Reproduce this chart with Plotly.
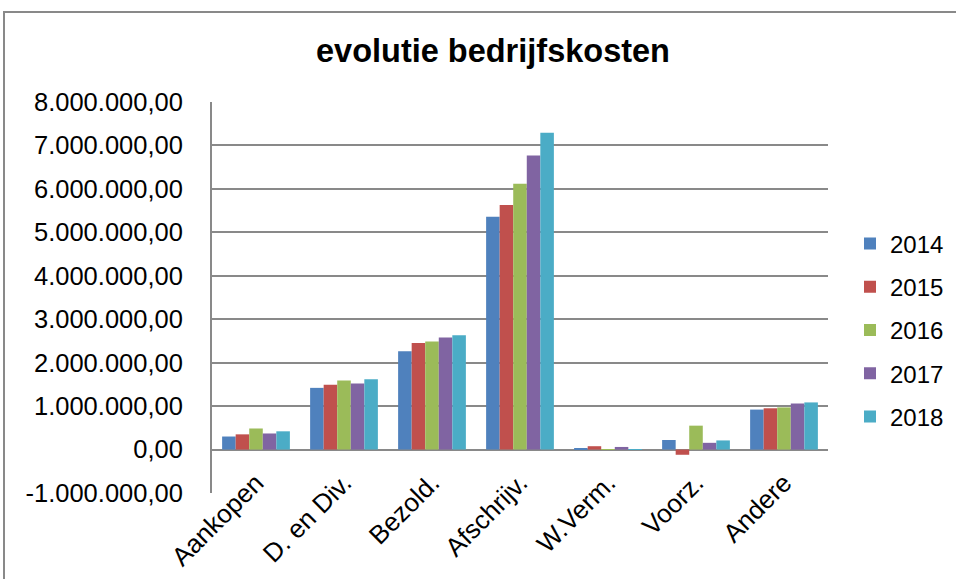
import plotly.graph_objects as go

categories = ["Aankopen", "D. en Div.", "Bezold.", "Afschrijv.", "W.Verm.", "Voorz.", "Andere"]
years = ["2014", "2015", "2016", "2017", "2018"]

v2014 = [300000, 1420000, 2260000, 5360000, 20000, 220000, 920000]
v2015 = [350000, 1490000, 2450000, 5630000, 77000, -120000, 950000]
v2016 = [485000, 1590000, 2490000, 6120000, 5000, 550000, 970000]
v2017 = [370000, 1520000, 2580000, 6770000, 60000, 155000, 1060000]
v2018 = [420000, 1620000, 2630000, 7290000, 5000, 210000, 1085000]

colors = ["#4F81BD", "#C0504D", "#9BBB59", "#8064A2", "#4BACC6"]

y_min, y_max = -1000000, 8000000
tick_vals = [-1000000, 0, 1000000, 2000000, 3000000, 4000000, 5000000, 6000000, 7000000, 8000000]
tick_text = ["-1.000.000,00", "0,00", "1.000.000,00", "2.000.000,00", "3.000.000,00",
             "4.000.000,00", "5.000.000,00", "6.000.000,00", "7.000.000,00", "8.000.000,00"]

fig = go.Figure()
for yr, vals, col in zip(years, [v2014, v2015, v2016, v2017, v2018], colors):
    fig.add_trace(go.Bar(name=yr, x=categories, y=vals, marker_color=col,
                         marker_line_width=0, legendgroup=yr))

grid = "#898989"
L, R, T, B = 212, 828, 102, 493
fig.update_layout(
    width=956, height=579,
    margin=dict(l=L, r=956 - R, t=T, b=579 - B, autoexpand=False),
    paper_bgcolor="white", plot_bgcolor="white",
    barmode="group", bargap=0.23, bargroupgap=0,
    font=dict(family="Liberation Sans, Arial", color="black", size=24),
    title=dict(text="<b>evolutie bedrijfskosten</b>", xref="container", x=493 / 956,
               xanchor="center", y=1 - 51 / 579, yanchor="middle", font=dict(size=32.5)),
    legend=dict(x=(850 - L) / (R - L), xanchor="left", y=(B - 330) / (B - T), yanchor="middle",
                font=dict(size=24), tracegroupgap=9, itemwidth=30,
                bgcolor="rgba(0,0,0,0)"),
    showlegend=True,
    shapes=[dict(type="rect", xref="paper", yref="paper",
                 x0=(4 - L) / (R - L), x1=1.5, y0=-0.5, y1=(B - 12) / (B - T),
                 line=dict(color=grid, width=2), fillcolor="rgba(0,0,0,0)", layer="below")],
)
fig.update_yaxes(range=[y_min, y_max], tickvals=tick_vals, ticktext=tick_text,
                 automargin=False,
                 showgrid=True, gridcolor=grid, gridwidth=2,
                 zeroline=True, zerolinecolor=grid, zerolinewidth=2,
                 showline=True, linecolor=grid, linewidth=2,
                 ticks="", ticklabelstandoff=22, tickfont=dict(size=25.5))
# category axis crosses the value axis at zero, labels hang below it
fig.update_xaxes(tickangle=-45, automargin=False, showline=False, ticks="",
                 anchor="free", position=(0 - y_min) / (y_max - y_min),
                 ticklabelstandoff=12, tickfont=dict(size=26))

fig.write_html("out.html")
